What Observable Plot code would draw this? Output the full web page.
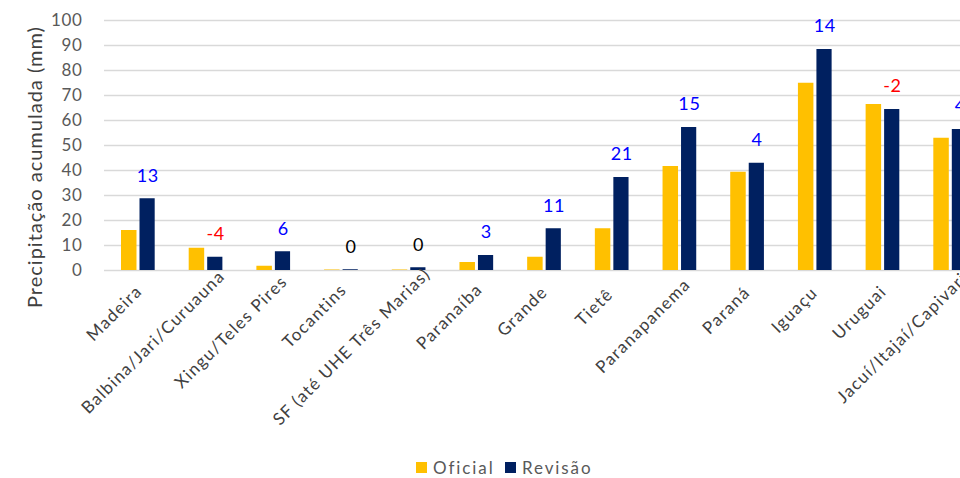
<!DOCTYPE html>
<html>
<head>
<meta charset="utf-8">
<script src="https://cdn.jsdelivr.net/npm/d3@7"></script>
<script src="https://cdn.jsdelivr.net/npm/@observablehq/plot@0.6"></script>
<style>
  html, body { margin: 0; padding: 0; background: #fff; overflow: hidden; }
  #wrap { width: 960px; height: 478px; overflow: hidden; position: relative; font-family: Lato, "Open Sans", sans-serif; }
  #chart svg { display: block; max-width: none !important; }
  #legend { position: absolute; top: 456px; left: 0; width: 960px; height: 22px; font-size: 17px; color: #595959; letter-spacing: 1.9px; }
  .item { position: absolute; top: 0; display: flex; align-items: center; height: 22px; }
  .sw { width: 11px; height: 11px; display: inline-block; margin-right: 6px; }
</style>
</head>
<body>
<div id="wrap">
  <div id="chart"></div>
  <div id="legend"></div>
</div>
<script>
const categories = ["Madeira", "Balbina/Jari/Curuauna", "Xingu/Teles Pires", "Tocantins", "SF (até UHE Três Marias)", "Paranaíba", "Grande", "Tietê", "Paranapanema", "Paraná", "Iguaçu", "Uruguai", "Jacuí/Itajaí/Capivari"];
const oficial = [16.0, 8.9, 1.7, 0.2, 0.2, 3.2, 5.3, 16.7, 41.6, 39.3, 74.9, 66.4, 52.9];
const revisao = [28.7, 5.3, 7.5, 0.3, 1.1, 6.0, 16.7, 37.2, 57.2, 42.9, 88.4, 64.4, 56.4];
const diffLabels = ["13", "-4", "6", "0", "0", "3", "11", "21", "15", "4", "14", "-2", "4"];
const seriesNames = ["Oficial", "Revisão"];
const seriesColors = ["#FFC000", "#002060"];
const yTicks = [0, 10, 20, 30, 40, 50, 60, 70, 80, 90, 100];

const rows = categories.map((c, i) => ({category: c, oficial: oficial[i], revisao: revisao[i], label: diffLabels[i], diff: +diffLabels[i]}));

const chart = Plot.plot({
  width: 984,
  height: 448,
  marginLeft: 104,
  marginRight: 0,
  marginTop: 20,
  marginBottom: 178,
  style: {fontFamily: "Lato, 'Open Sans', sans-serif", background: "#fff", overflow: "visible"},
  x: {type: "band", domain: categories, padding: 0, round: false, label: null},
  y: {domain: [0, 100], label: null},
  marks: [
    Plot.ruleY(yTicks, {stroke: "#d9d9d9", strokeWidth: 1.6}),
    Plot.barY(rows, {x: "category", y: "oficial", fill: seriesColors[0], insetLeft: 17, insetRight: 35.2}),
    Plot.barY(rows, {x: "category", y: "revisao", fill: seriesColors[1], insetLeft: 35.5, insetRight: 17}),
    Plot.text(rows, {x: "category", y: "revisao", text: "label", dx: 9.5, dy: -23, fontSize: 18, lineAnchor: "middle",
      fill: d => d.diff < 0 ? "#FF0000" : d.diff > 0 ? "#0000FF" : "#000000"}),
    Plot.axisY({ticks: yTicks, tickSize: 0, tickPadding: 22, fontSize: 17, color: "#595959", label: null}),
    Plot.axisX({tickSize: 0, tickPadding: 15, tickRotate: -45, fontSize: 17, color: "#404040", label: null, dx: 4}),
    Plot.text(["Precipitação acumulada (mm)"], {frameAnchor: "left", textAnchor: "middle", rotate: -90, dx: -69, dy: 21.5, fontSize: 20, fill: "#404040"})
  ]
});
document.getElementById("chart").appendChild(chart);
chart.querySelectorAll("g[aria-label='x-axis tick label'] text").forEach(t => {
  t.style.letterSpacing = "1.3px";
  const L = t.getComputedTextLength();
  const s = 0.17 * (L - 95);
  t.setAttribute("transform", (t.getAttribute("transform") || "") + ` translate(${s},0)`);
});
chart.querySelectorAll("g[aria-label='y-axis tick label'] text").forEach(t => { t.style.letterSpacing = "0.6px"; });
chart.querySelectorAll("g[aria-label='text'] text").forEach(t => { t.style.letterSpacing = "0.6px"; });
const title = chart.querySelectorAll("g[aria-label='text']");
title[title.length - 1].querySelectorAll("text").forEach(t => { t.style.letterSpacing = "1px"; });

const legend = document.getElementById("legend");
const lefts = [416, 505];
seriesNames.forEach((name, i) => {
  const item = document.createElement("div");
  item.className = "item";
  item.style.left = lefts[i] + "px";
  const sw = document.createElement("span");
  sw.className = "sw";
  sw.style.background = seriesColors[i];
  item.appendChild(sw);
  item.appendChild(document.createTextNode(name));
  legend.appendChild(item);
});
</script>
</body>
</html>
